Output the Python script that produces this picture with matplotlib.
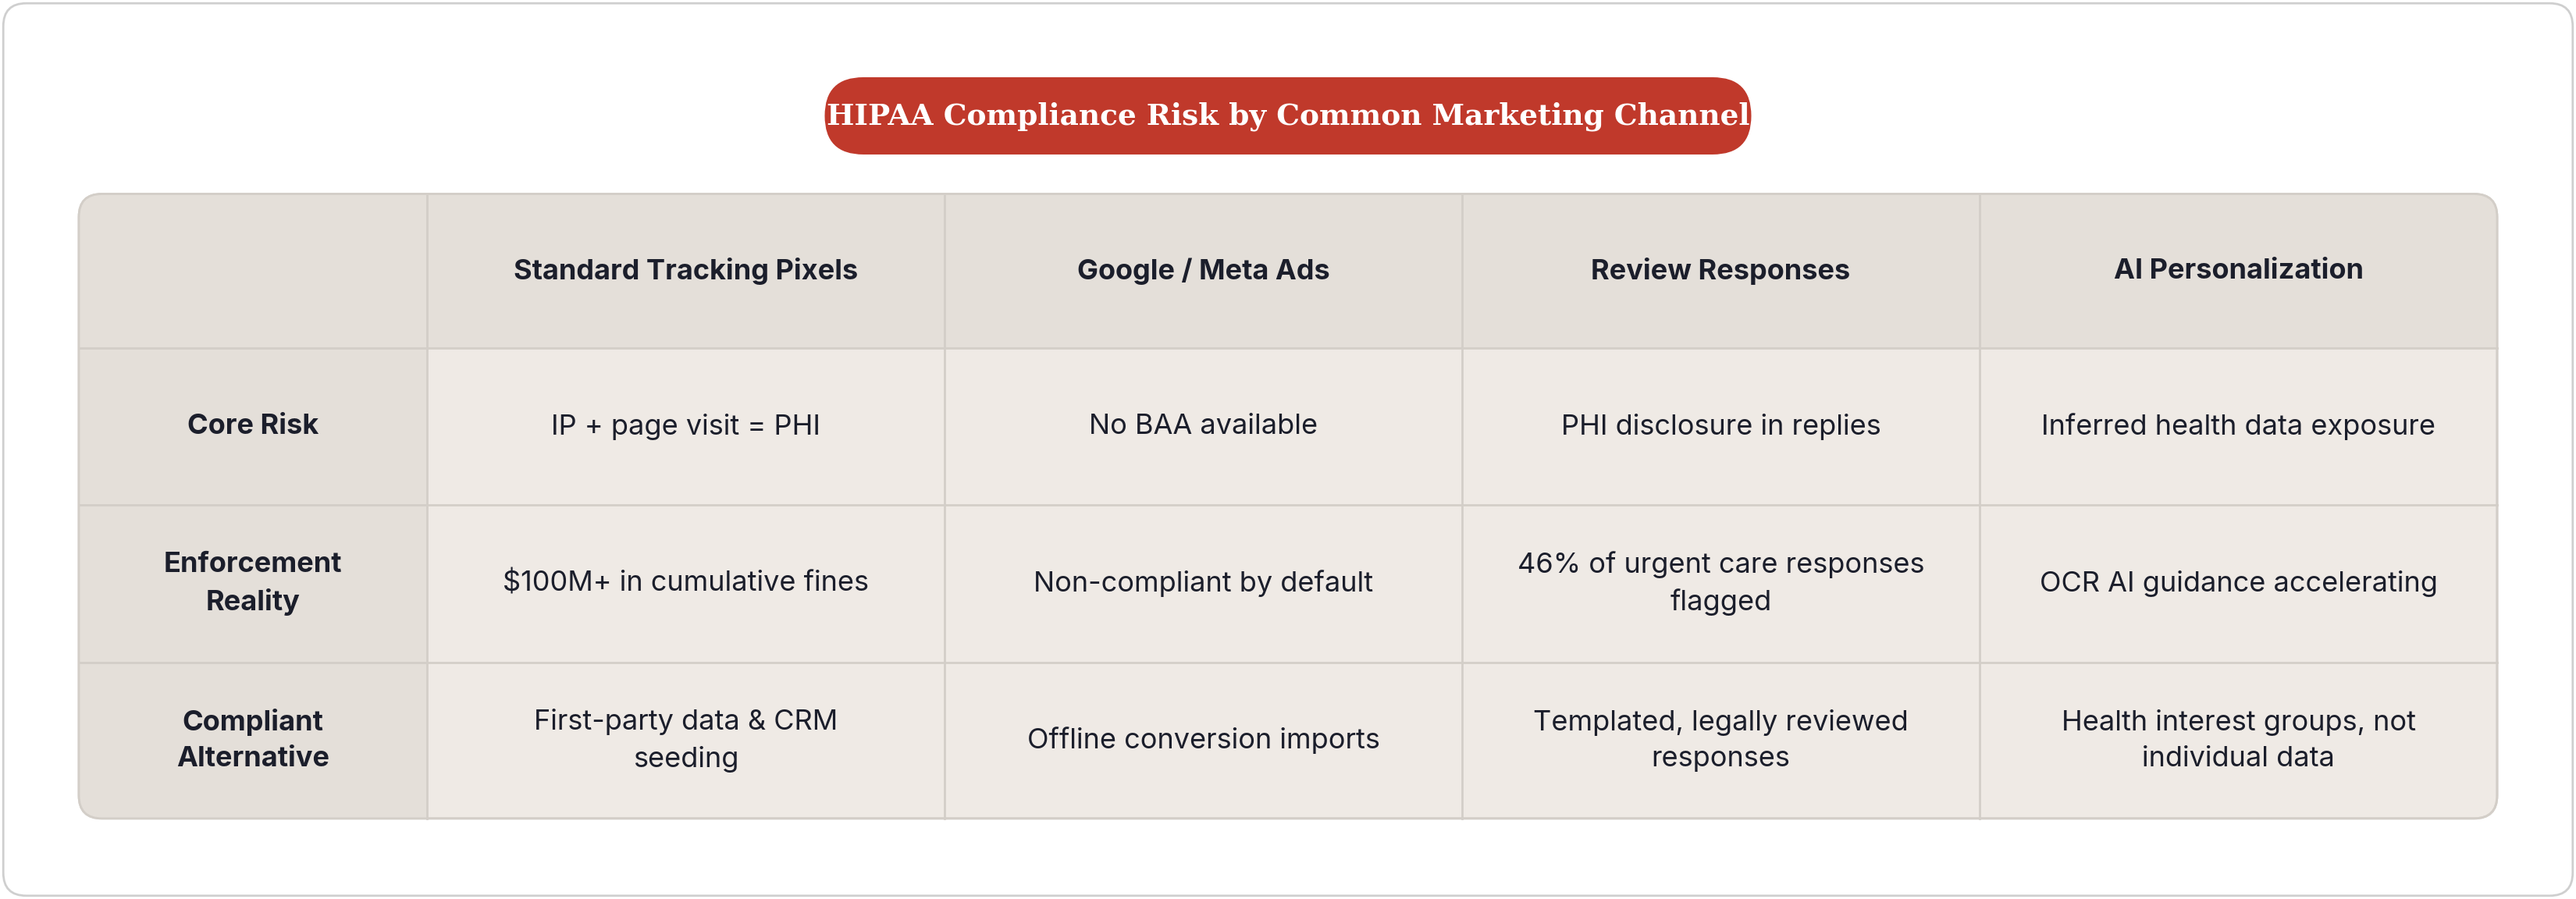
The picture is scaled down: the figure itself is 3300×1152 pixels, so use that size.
import matplotlib
matplotlib.use("Agg")
import matplotlib.pyplot as plt
from matplotlib.patches import FancyBboxPatch, Rectangle

title = "HIPAA Compliance Risk by Common Marketing Channel"
columns = ["Standard Tracking Pixels", "Google / Meta Ads", "Review Responses", "AI Personalization"]
row_labels = ["Core Risk", "Enforcement\nReality", "Compliant\nAlternative"]
cells = [
    ["IP + page visit = PHI", "No BAA available", "PHI disclosure in replies", "Inferred health data exposure"],
    ["$100M+ in cumulative fines", "Non-compliant by default", "46% of urgent care responses\nflagged", "OCR AI guidance accelerating"],
    ["First-party data & CRM\nseeding", "Offline conversion imports", "Templated, legally reviewed\nresponses", "Health interest groups, not\nindividual data"],
]

W, H = 1568, 547
fig = plt.figure(figsize=(33, 11.52), dpi=100)
ax = fig.add_axes([0, 0, 1, 1])
ax.set_xlim(0, W); ax.set_ylim(H, 0); ax.axis("off")
fig.patch.set_facecolor("white")

ax.add_patch(FancyBboxPatch((2, 2), W - 4, H - 4, boxstyle="round,pad=0,rounding_size=14",
                            fc="white", ec="#CFCFCF", lw=2))
# title pill
ax.add_patch(FancyBboxPatch((502, 47), 564, 47, boxstyle="round,pad=0,rounding_size=23.5",
                            fc="#C0392B", ec="none"))
ax.text(784, 71, title, ha="center", va="center", color="white", fontsize=27,
        fontweight="bold", family="DejaVu Serif")

x0, x1 = 48, 1520
xs = [48, 260, 575, 890, 1205, 1520]
ys = [118, 212, 307, 403, 498]
hdr = "#E4DFD9"; cellc = "#EFEAE5"; line = "#D3CEC8"
# table background with rounded corners
ax.add_patch(FancyBboxPatch((x0, ys[0]), x1 - x0, ys[-1] - ys[0],
                            boxstyle="round,pad=0,rounding_size=14", fc=cellc, ec=line, lw=2, zorder=1))
clip = FancyBboxPatch((x0, ys[0]), x1 - x0, ys[-1] - ys[0],
                      boxstyle="round,pad=0,rounding_size=14", fc="none", ec="none")
ax.add_patch(clip)
r = Rectangle((x0, ys[0]), x1 - x0, ys[1] - ys[0], fc=hdr, ec="none", zorder=2)
ax.add_patch(r); r.set_clip_path(clip)
r = Rectangle((x0, ys[0]), xs[1] - x0, ys[-1] - ys[0], fc=hdr, ec="none", zorder=2)
ax.add_patch(r); r.set_clip_path(clip)
for x in xs[1:-1]:
    ax.plot([x, x], [ys[0], ys[-1]], color=line, lw=2, zorder=3)
for y in ys[1:-1]:
    ax.plot([x0, x1], [y, y], color=line, lw=2, zorder=3)
ax.add_patch(FancyBboxPatch((x0, ys[0]), x1 - x0, ys[-1] - ys[0],
                            boxstyle="round,pad=0,rounding_size=14", fc="none", ec=line, lw=2, zorder=4))

fam = ["Inter", "DejaVu Sans"]
txt = "#1B1E2B"
for j, c in enumerate(columns):
    ax.text((xs[j + 1] + xs[j + 2]) / 2, (ys[0] + ys[1]) / 2, c, ha="center", va="center",
            fontsize=26, fontweight="bold", color=txt, family=fam, zorder=5)
for i, lab in enumerate(row_labels):
    yc = (ys[i + 1] + ys[i + 2]) / 2
    ax.text((xs[0] + xs[1]) / 2, yc, lab, ha="center", va="center", fontsize=26,
            fontweight="bold", color=txt, family=fam, linespacing=1.5, zorder=5)
    for j, v in enumerate(cells[i]):
        ax.text((xs[j + 1] + xs[j + 2]) / 2, yc, v, ha="center", va="center", fontsize=26,
                color=txt, family=fam, linespacing=1.5, zorder=5)

fig.savefig("out.png", dpi=100)
